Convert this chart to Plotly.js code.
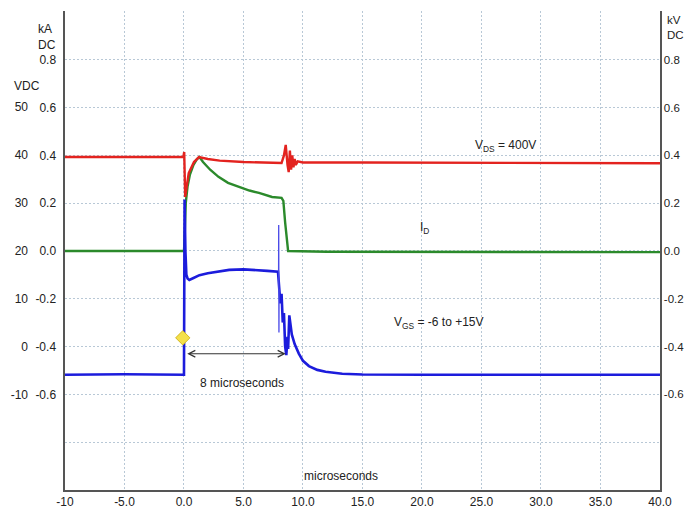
<!DOCTYPE html>
<html>
<head>
<meta charset="utf-8">
<script src="https://cdn.plot.ly/plotly-3.0.1.min.js"></script>
<style>html,body{margin:0;padding:0;background:#fff;}#chart{width:685px;height:512px;}</style>
</head>
<body>
<div id="chart"></div>
<script>
// Time axis (microseconds)
const xTickVals = [-10, -5, 0, 5, 10, 15, 20, 25, 30, 35, 40];
const xTickText = ["-10", "-5.0", "0.0", "5.0", "10.0", "15.0", "20.0", "25.0", "30.0", "35.0", "40.0"];

// kA / kV scale ticks
const kTickVals = [-0.6, -0.4, -0.2, 0.0, 0.2, 0.4, 0.6, 0.8];
const kTickText = ["-0.6", "-0.4", "-0.2", "0.0", "0.2", "0.4", "0.6", "0.8"];

// VDC scale ticks
const vTickVals = [-10, 0, 10, 20, 30, 40, 50];
const vTickText = ["-10", "0", "10", "20", "30", "40", "50"];

// VDS (kV)
const vdsT = [-10, -5, -0.05, 0.02, 0.06, 0.1, 0.2, 0.4, 0.84, 1.26, 2, 3, 5, 7, 8.2, 8.4, 8.55, 8.7, 8.8, 8.9, 9.0, 9.1, 9.2, 9.3, 9.4, 9.55, 10, 15, 25, 40];
const vdsV = [0.393, 0.392, 0.393, 0.414, 0.30, 0.226, 0.26, 0.326, 0.372, 0.393, 0.385, 0.378, 0.372, 0.368, 0.368, 0.40, 0.444, 0.36, 0.33, 0.42, 0.34, 0.40, 0.35, 0.385, 0.36, 0.375, 0.37, 0.37, 0.368, 0.367];

// ID (kA)
const idT = [-10, 0, 0.05, 0.15, 0.3, 0.5, 0.8, 1.1, 1.3, 1.6, 2.2, 2.9, 3.7, 4.6, 5.5, 6.3, 7.4, 8.2, 8.35, 8.5, 8.65, 8.75, 12, 40];
const idV = [0.0, 0.0, 0.05, 0.2, 0.27, 0.32, 0.36, 0.385, 0.393, 0.372, 0.34, 0.31, 0.285, 0.268, 0.253, 0.243, 0.226, 0.222, 0.21, 0.12, 0.03, 0.0, -0.003, -0.005];

// VGS (VDC)
const vgsT = [-10, -5, 0, 0.02, 0.05, 0.12, 0.2, 0.3, 0.45, 0.8, 1.3, 2.0, 2.9, 3.8, 5, 6, 7, 7.9, 8.0, 8.1, 8.2, 8.3, 8.4, 8.5, 8.6, 8.7, 8.75, 8.85, 9.06, 9.3, 9.65, 10.0, 10.5, 11.2, 11.9, 13.3, 15, 20, 40];
const vgsV = [-5.9, -5.8, -5.9, 10, 30.7, 20, 15, 14.2, 13.9, 14.3, 14.9, 15.3, 15.6, 16.0, 16.1, 16.0, 15.8, 15.6, 12, 9, 11, 5, 7, 0, -1.8, 2, -0.5, 6.5, 2.5, 0.5, -1.5, -3.0, -4.1, -4.9, -5.3, -5.7, -5.85, -5.9, -5.9];

// Thin gate spike (VDC)
const spikeT = [7.95, 7.96, 7.98, 7.99];
const spikeV = [15.6, 25.4, 2.9, 12];

// Marker (VDC)
const markT = [-0.1];
const markV = [1.8];

const gridColor = "#b8c8d6";
const gridDash = "2px,2px";
const axisColor = "#555555";
const txt = {family: "Liberation Sans, Arial, sans-serif", size: 12, color: "#222"};
const txtR = {family: "Liberation Sans, Arial, sans-serif", size: 11.5, color: "#222"};

const traces = [
  {x: vdsT, y: vdsV, yaxis: "y3", mode: "lines", line: {color: "#e3231f", width: 2.4}, hoverinfo: "skip"},
  {x: idT, y: idV, yaxis: "y", mode: "lines", line: {color: "#2b8a2b", width: 2.4}, hoverinfo: "skip"},
  {x: vgsT, y: vgsV, yaxis: "y2", mode: "lines", line: {color: "#1c1cdc", width: 2.6}, hoverinfo: "skip"},
  {x: spikeT, y: spikeV, yaxis: "y2", mode: "lines", line: {color: "#4a4ae8", width: 1.3}, hoverinfo: "skip"},
  {x: markT, y: markV, yaxis: "y2", mode: "markers", marker: {symbol: "diamond", size: 11, color: "#f4e04a", line: {color: "#d4b820", width: 1}}, hoverinfo: "skip"}
];

const layout = {
  width: 685, height: 512,
  margin: {l: 28, r: 25, t: 11, b: 22},
  paper_bgcolor: "#fff", plot_bgcolor: "#fff",
  showlegend: false,
  font: txt,
  xaxis: {
    domain: [0.0585, 1], range: [-10, 40],
    tickvals: xTickVals, ticktext: xTickText,
    showgrid: true, gridcolor: gridColor, griddash: gridDash, gridwidth: 1,
    showline: true, linecolor: axisColor, linewidth: 1.5,
    zeroline: false, ticks: "", tickfont: txt
  },
  yaxis: {
    range: [-1, 1.004], tickvals: kTickVals, ticktext: kTickText,
    showgrid: true, gridcolor: gridColor, griddash: gridDash, gridwidth: 1,
    minor: {tick0: 0, dtick: 0.2, showgrid: true, gridcolor: gridColor, griddash: gridDash, gridwidth: 1, ticks: ""},
    showline: true, linecolor: axisColor, linewidth: 1.5,
    zeroline: false, ticks: "", ticklabelstandoff: 5, tickfont: txt
  },
  yaxis2: {
    overlaying: "y", anchor: "free", position: 0, side: "left",
    range: [-30, 70.1], tickvals: vTickVals, ticktext: vTickText,
    showgrid: false, showline: false, zeroline: false, ticks: "", tickfont: txt
  },
  yaxis3: {
    overlaying: "y", anchor: "x", side: "right",
    range: [-1, 1.004], tickvals: kTickVals, ticktext: kTickText,
    showgrid: false, showline: true, linecolor: axisColor, linewidth: 1.5,
    zeroline: false, ticks: "", ticklabelstandoff: 0, tickfont: txtR
  },
  annotations: [
    {xref: "paper", yref: "paper", x: 0.0127, y: 0.9456, xanchor: "left", yanchor: "middle", align: "left", text: "kA<br>DC", showarrow: false, font: txt},
    {xref: "paper", yref: "paper", x: -0.0253, y: 0.843, xanchor: "left", yanchor: "middle", text: "VDC", showarrow: false, font: txt},
    {xref: "paper", yref: "paper", x: 1.008, y: 0.9665, xanchor: "left", yanchor: "middle", align: "left", text: "kV<br>DC", showarrow: false, font: txtR},
    {xref: "x", yref: "y", x: 24.3, y: 0.44, xanchor: "left", yanchor: "middle", text: "V<sub>DS</sub> = 400V", showarrow: false, font: txt},
    {xref: "x", yref: "y", x: 19.7, y: 0.096, xanchor: "left", yanchor: "middle", text: "I<sub>D</sub>", showarrow: false, font: txt},
    {xref: "x", yref: "y", x: 17.45, y: -0.30, xanchor: "left", yanchor: "middle", text: "V<sub>GS</sub> = -6 to +15V", showarrow: false, font: txt},
    {xref: "x", yref: "y", x: 4.85, y: -0.552, xanchor: "center", yanchor: "middle", text: "8 microseconds", showarrow: false, font: txt},
    {xref: "x", yref: "y", x: 13.2, y: -0.94, xanchor: "center", yanchor: "middle", text: "microseconds", showarrow: false, font: txt},
    {xref: "x", yref: "y", axref: "x", ayref: "y", x: 8.55, y: -0.43, ax: 0.15, ay: -0.43, text: "", showarrow: true,
     arrowhead: 5, startarrowhead: 5, arrowside: "end+start", arrowsize: 1.3, startarrowsize: 1.3, arrowwidth: 1, arrowcolor: "#333"}
  ]
};

Plotly.newPlot("chart", traces, layout, {displayModeBar: false, staticPlot: true});
</script>
</body>
</html>
